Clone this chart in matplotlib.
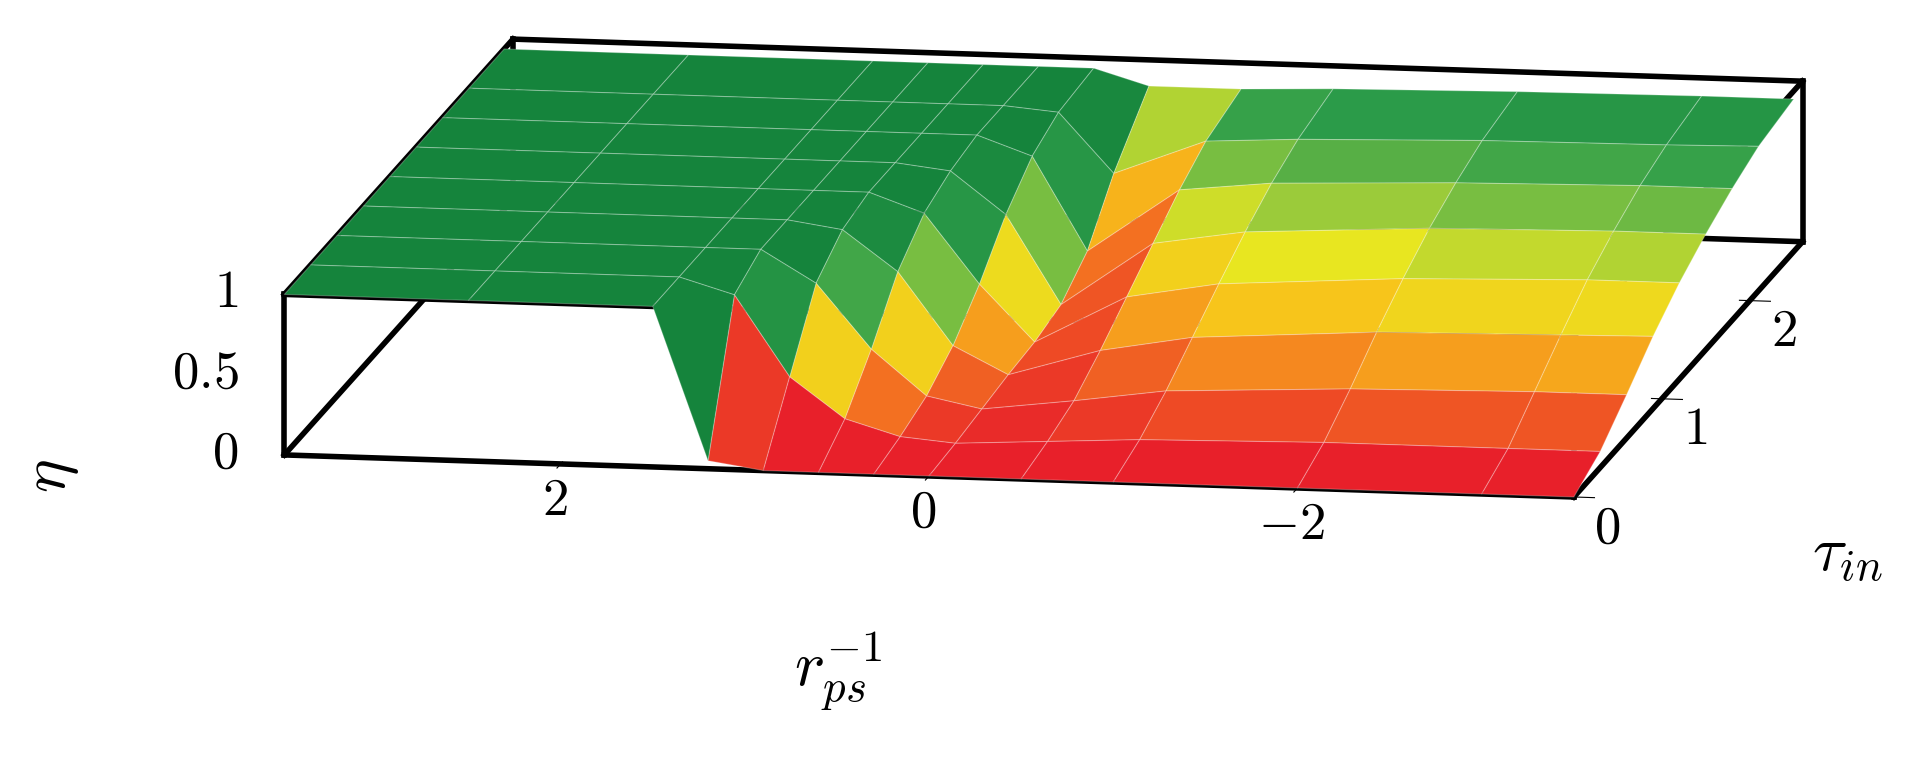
import numpy as np
import matplotlib
matplotlib.use("Agg")
import matplotlib.pyplot as plt
from matplotlib.colors import LinearSegmentedColormap

plt.rcParams['mathtext.fontset'] = 'cm'
plt.rcParams['font.family'] = ['DejaVu Serif']

r_inv = [3.5, 2.5, 1.5, 1.2, 0.9, 0.6, 0.3, 0.0, -0.5, -1.0, -2.0, -3.0, -3.5]
tau_in = [0.0, 0.3, 0.6, 0.9, 1.2, 1.5, 1.8, 2.1, 2.5]
eta = [
    [1, 1, 1, 0.05, 0.0, 0.0, 0.0, 0.0, 0.0, 0.0, 0.0, 0.0, 0.0],
    [1, 1, 1, 0.90, 0.40, 0.15, 0.05, 0.02, 0.05, 0.08, 0.10, 0.10, 0.10],
    [1, 1, 1, 1.00, 0.80, 0.40, 0.12, 0.05, 0.12, 0.20, 0.25, 0.27, 0.27],
    [1, 1, 1, 1.00, 0.95, 0.70, 0.25, 0.08, 0.25, 0.35, 0.42, 0.44, 0.45],
    [1, 1, 1, 1.00, 1.00, 0.88, 0.45, 0.10, 0.40, 0.50, 0.57, 0.60, 0.60],
    [1, 1, 1, 1.00, 1.00, 0.96, 0.70, 0.15, 0.55, 0.64, 0.70, 0.72, 0.72],
    [1, 1, 1, 1.00, 1.00, 1.00, 0.88, 0.30, 0.70, 0.76, 0.80, 0.82, 0.82],
    [1, 1, 1, 1.00, 1.00, 1.00, 0.97, 0.60, 0.82, 0.85, 0.88, 0.89, 0.90],
    [1, 1, 1, 1.00, 1.00, 1.00, 1.00, 0.90, 0.90, 0.92, 0.94, 0.95, 0.95],
]
x_ticks = [2, 0, -2]
y_ticks = [0, 1, 2]
z_ticks = [0, 0.5, 1]

cmap = LinearSegmentedColormap.from_list(
    "ryg", ["#e8202a", "#f47a20", "#f8c21a", "#e9e620", "#8cc63f", "#2e9e4a", "#15843c"])

X, Y = np.meshgrid(r_inv, tau_in)
Z = np.array(eta)

fig = plt.figure(figsize=(19.31, 7.81), dpi=100)
ax = fig.add_axes([-0.074, -0.551, 1.203, 2.352], projection='3d')
ax.set_proj_type('ortho')
ax.plot_surface(X, Y, Z, facecolors=cmap(Z), rstride=1, cstride=1,
                linewidth=0.8, edgecolor=(1, 1, 1, 0.25), antialiased=True, shade=False)

xl, yl, zl = (3.5, -3.5), (0, 2.6), (0, 1)
ax.set_xlim(*xl); ax.set_ylim(*yl); ax.set_zlim(*zl)
for (xa, ya) in [(xl[0], yl[0]), (xl[1], yl[0]), (xl[0], yl[1]), (xl[1], yl[1])]:
    ax.plot([xa, xa], [ya, ya], zl, color='k', lw=4)
for z in zl:
    ax.plot(xl, [yl[0]] * 2, [z] * 2, color='k', lw=4)
    ax.plot(xl, [yl[1]] * 2, [z] * 2, color='k', lw=4)
    ax.plot([xl[0]] * 2, yl, [z] * 2, color='k', lw=4)
    ax.plot([xl[1]] * 2, yl, [z] * 2, color='k', lw=4)

ax.set_xticks(x_ticks); ax.set_xticklabels([f'${t}$' for t in x_ticks], fontsize=38)
ax.set_yticks(y_ticks); ax.set_yticklabels([f'${t}$' for t in y_ticks], fontsize=38)
ax.set_zticks([])
for t in z_ticks:
    ax.text(xl[0] + 0.25, 0, t, f'${t}$', fontsize=38, ha='right', va='center')
ax.tick_params(axis='x', pad=10)
ax.tick_params(axis='y', pad=10)
fig.text(0.434, 0.14, r'$r_{ps}^{-1}$', fontsize=46, ha='center', va='center')
fig.text(0.957, 0.29, r'$\tau_{in}$', fontsize=46, ha='center', va='center')
fig.text(0.026, 0.39, r'$\eta$', fontsize=46, ha='center', va='center', rotation=90)
for a in (ax.xaxis, ax.yaxis, ax.zaxis):
    a.pane.fill = False
    a.pane.set_edgecolor('none')
    a.line.set_color('none')
    a.label.set_visible(False)
    a.offsetText.set_visible(False)
ax.grid(False)
ax.set_box_aspect((8, 8.3, 1.0))
ax.view_init(elev=11, azim=-80.3)
fig.savefig('out.png', dpi=100)
